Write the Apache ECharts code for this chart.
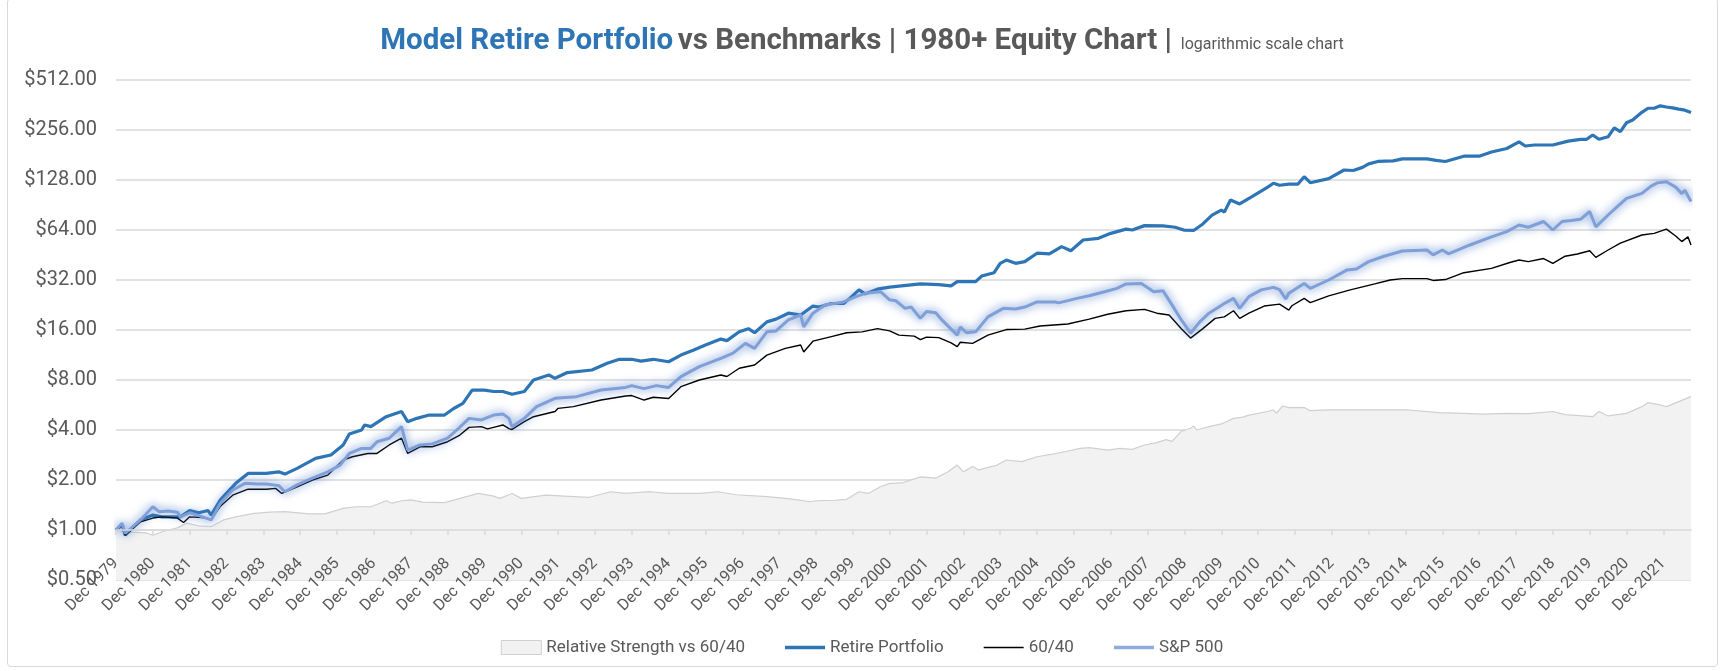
<!DOCTYPE html>
<html>
<head>
<meta charset="utf-8">
<script src="https://cdn.jsdelivr.net/npm/echarts@6/dist/echarts.min.js"></script>
<style>
html, body { margin: 0; padding: 0; background: #fff; }
#chart { width: 1724px; height: 671px; }
#frame { position: absolute; left: 7px; top: -2px; width: 1709px; height: 667px; border: 1px solid #d9d9d9; border-radius: 4px; pointer-events: none; }
</style>
</head>
<body>
<div id="chart"></div>
<div id="frame"></div>
<script>
// months counted from Dec 1979 (0) to Sep 2022 (513)
const tickLabels = ['Dec 1979', 'Dec 1980', 'Dec 1981', 'Dec 1982', 'Dec 1983', 'Dec 1984', 'Dec 1985', 'Dec 1986',
    'Dec 1987', 'Dec 1988', 'Dec 1989', 'Dec 1990', 'Dec 1991', 'Dec 1992', 'Dec 1993', 'Dec 1994', 'Dec 1995',
    'Dec 1996', 'Dec 1997', 'Dec 1998', 'Dec 1999', 'Dec 2000', 'Dec 2001', 'Dec 2002', 'Dec 2003', 'Dec 2004',
    'Dec 2005', 'Dec 2006', 'Dec 2007', 'Dec 2008', 'Dec 2009', 'Dec 2010', 'Dec 2011', 'Dec 2012', 'Dec 2013',
    'Dec 2014', 'Dec 2015', 'Dec 2016', 'Dec 2017', 'Dec 2018', 'Dec 2019', 'Dec 2020', 'Dec 2021'];
const tickMonths = tickLabels.map((t, i) => i * 12);

const retireMonths = [0, 2, 3, 8, 12, 15, 21, 24, 27, 30, 31, 34, 39, 43, 49, 53, 55, 59, 65, 70, 74, 76, 80, 81, 83, 88,
    93, 95, 98, 102, 107, 110, 113, 116, 120, 123, 126, 129, 133, 136, 141, 143, 147, 155, 160, 164, 168, 171, 175, 180,
    184, 188, 192, 197, 199, 203, 206, 208, 212, 215, 219, 223, 227, 229, 233, 237, 239, 242, 244, 248, 252, 262, 268,
    272, 274, 280, 282, 286, 288, 290, 293, 296, 300, 304, 308, 311, 315, 320, 324, 329, 331, 335, 341, 345, 348, 351,
    354, 357, 360, 361, 363, 366, 370, 375, 377, 379, 382, 385, 387, 389, 395, 400, 403, 406, 408, 411, 416, 419, 427,
    430, 433, 439, 444, 448, 453, 457, 459, 462, 465, 468, 473, 477, 479, 481, 483, 486, 488, 490, 492, 494, 497, 499,
    501, 503, 505, 507, 509, 511, 513];
const retireValues = [1.0, 1.07, 0.93, 1.15, 1.23, 1.20, 1.20, 1.31, 1.27, 1.31, 1.23, 1.52, 1.91, 2.19, 2.19, 2.24, 2.17,
    2.35, 2.70, 2.83, 3.25, 3.78, 4.0, 4.29, 4.19, 4.81, 5.17, 4.49, 4.70, 4.92, 4.92, 5.39, 5.78, 6.96, 6.96, 6.82, 6.82,
    6.57, 6.82, 8.0, 8.57, 8.19, 8.87, 9.19, 10.09, 10.66, 10.66, 10.4, 10.66, 10.3, 11.3, 12.1, 13.0, 14.1, 13.8, 15.6,
    16.3, 15.4, 17.9, 18.6, 20.2, 19.7, 22.3, 22.0, 23.1, 23.1, 24.8, 27.9, 26.4, 28.2, 29.0, 30.3, 30.0, 29.5, 31.3, 31.3,
    33.8, 35.4, 40.3, 42.2, 40.3, 41.3, 46.4, 46.0, 50.8, 48.0, 55.7, 57.0, 61.1, 64.8, 64.0, 68.0, 67.8, 66.5, 63.8, 63.6,
    69.6, 78.6, 84.4, 82, 97.0, 91.8, 101.6, 115.5, 122.3, 119, 121, 121, 134, 123.3, 130.5, 147, 146, 152.5, 160, 165.5,
    167, 171.4, 171.4, 168, 165.5, 178, 178, 188.6, 198, 217, 205, 208, 208, 208, 219.5, 225, 225, 239, 225, 233, 264, 250,
    283, 294, 327, 346, 346, 358, 352, 348, 342, 337, 326];

const mixMonths = [0, 2, 3, 8, 12, 15, 20, 22, 24, 28, 31, 34, 38, 43, 49, 52, 54, 59, 64, 69, 74, 77, 82, 85, 89, 93, 95,
    99, 103, 108, 112, 115, 119, 121, 123, 126, 128, 129, 133, 136, 143, 144, 149, 158, 166, 168, 172, 175, 180, 184, 190,
    197, 199, 203, 208, 212, 218, 223, 224, 227, 233, 238, 243, 248, 252, 255, 260, 262, 264, 268, 272, 274, 275, 279, 284,
    290, 296, 301, 310, 317, 323, 329, 335, 339, 343, 347, 350, 354, 358, 361, 364, 366, 369, 374, 379, 382, 383, 387, 389,
    395, 402, 410, 415, 419, 427, 429, 433, 439, 448, 454, 457, 460, 465, 468, 472, 476, 480, 482, 486, 490, 497, 501, 505,
    508, 510, 512, 513];
const mixValues = [1.0, 1.07, 0.93, 1.12, 1.18, 1.20, 1.18, 1.11, 1.20, 1.19, 1.16, 1.39, 1.62, 1.76, 1.76, 1.78, 1.66,
    1.82, 2.0, 2.14, 2.64, 2.76, 2.89, 2.89, 3.25, 3.57, 2.89, 3.17, 3.17, 3.40, 3.73, 4.15, 4.19, 4.06, 4.15, 4.29, 4.08,
    4.03, 4.49, 4.81, 5.17, 5.4, 5.53, 6.06, 6.41, 6.45, 6.06, 6.3, 6.19, 7.29, 8.0, 8.57, 8.4, 9.41, 9.85, 11.3, 12.4, 13.0,
    11.8, 13.7, 14.6, 15.4, 15.6, 16.3, 15.8, 14.9, 14.7, 14.0, 14.5, 14.4, 13.4, 12.7, 13.5, 13.3, 14.9, 16.1, 16.2, 16.9,
    17.4, 18.6, 19.9, 20.9, 21.3, 20.2, 19.7, 16.3, 14.3, 16.3, 18.8, 19.2, 20.9, 18.8, 20.2, 22.3, 22.9, 21.1, 22.4, 24.8,
    23.4, 25.7, 27.9, 30.3, 32, 32.6, 32.6, 31.8, 32.2, 35.4, 37.6, 40.8, 42.2, 41.3, 43.1, 40.3, 44.5, 45.9, 48, 43.8, 48.5,
    53.3, 59.7, 61.1, 64.8, 58.9, 54.5, 58.2, 52];

const spxMonths = [0, 2, 3, 8, 12, 14, 17, 20, 21, 24, 27, 31, 34, 38, 42, 46, 49, 53, 55, 59, 64, 69, 73, 76, 80, 83, 85,
    89, 93, 95, 99, 103, 108, 111, 115, 119, 123, 126, 128, 129, 133, 137, 143, 150, 158, 166, 168, 172, 176, 180, 184, 190,
    197, 201, 205, 208, 212, 215, 219, 223, 224, 227, 231, 237, 241, 244, 249, 252, 254, 257, 259, 262, 264, 267, 269, 274,
    275, 277, 280, 284, 289, 293, 296, 300, 306, 307, 313, 317, 322, 326, 329, 334, 338, 341, 344, 347, 350, 353, 356, 361,
    364, 366, 369, 373, 377, 379, 381, 382, 387, 389, 395, 401, 404, 408, 413, 419, 427, 429, 432, 434, 441, 448, 453, 457,
    460, 465, 468, 471, 474, 477, 480, 482, 486, 489, 492, 497, 500, 502, 505, 508, 510, 511, 513];
const spxValues = [1.0, 1.10, 0.955, 1.15, 1.38, 1.29, 1.30, 1.28, 1.20, 1.27, 1.22, 1.15, 1.45, 1.74, 1.91, 1.89, 1.89,
    1.85, 1.70, 1.87, 2.05, 2.24, 2.46, 2.89, 3.10, 3.10, 3.40, 3.57, 4.19, 3.03, 3.25, 3.30, 3.57, 4.0, 4.7, 4.6, 4.92, 5.0,
    4.7, 4.19, 4.70, 5.53, 6.21, 6.35, 6.96, 7.22, 7.4, 7.1, 7.4, 7.22, 8.38, 9.63, 10.8, 11.6, 13.3, 12.4, 15.6, 15.8, 18.4,
    19.7, 16.7, 20.2, 22.6, 23.6, 25.4, 26.6, 27.2, 24.3, 24.0, 21.6, 22.0, 18.8, 20.7, 20.3, 18.4, 14.9, 16.7, 15.4, 15.6,
    19.2, 21.6, 21.4, 22.0, 23.6, 23.6, 23.3, 24.8, 25.7, 27.2, 28.5, 30.3, 30.5, 27.2, 27.6, 22.6, 18.4, 15.3, 17.9, 20.2,
    23.1, 24.8, 21.6, 25.4, 27.9, 28.9, 28.0, 24.6, 26.6, 30.5, 28.5, 32, 36.8, 37.3, 41.3, 44.5, 47.8, 48.5, 45.3, 48.5,
    46.0, 52, 58.2, 62.6, 68.6, 66.5, 72, 64, 72, 73, 74.2, 82.7, 66.9, 78.8, 88.4, 99.2, 106.3, 117.6, 123, 125, 116, 106,
    111, 95];

const rsMonths = [0, 5, 10, 12, 16, 20, 23, 27, 31, 35, 39, 45, 50, 55, 63, 68, 74, 78, 83, 88, 90, 93, 96, 100, 107, 112,
    118, 123, 125, 129, 132, 140, 146, 154, 161, 166, 174, 180, 190, 196, 202, 212, 218, 222, 226, 228, 234, 238, 242, 245,
    249, 252, 256, 262, 267, 271, 274, 276, 279, 281, 287, 290, 295, 300, 305, 309, 314, 317, 323, 327, 331, 335, 339, 342,
    344, 347, 350, 351, 352, 356, 360, 364, 367, 369, 375, 377, 378, 380, 382, 387, 389, 395, 414, 421, 431, 439, 445, 453,
    460, 468, 472, 481, 483, 486, 492, 497, 499, 503, 505, 509, 513];
const rsValues = [1.0, 0.97, 0.96, 0.93, 0.99, 1.03, 1.10, 1.06, 1.05, 1.15, 1.20, 1.26, 1.28, 1.29, 1.25, 1.25, 1.35, 1.38,
    1.38, 1.50, 1.45, 1.50, 1.52, 1.47, 1.46, 1.55, 1.66, 1.60, 1.55, 1.66, 1.55, 1.62, 1.60, 1.57, 1.70, 1.66, 1.70, 1.66,
    1.66, 1.70, 1.63, 1.59, 1.55, 1.52, 1.48, 1.50, 1.51, 1.53, 1.70, 1.66, 1.82, 1.91, 1.92, 2.09, 2.05, 2.24, 2.46, 2.24,
    2.41, 2.30, 2.46, 2.64, 2.58, 2.76, 2.86, 2.96, 3.10, 3.13, 3.03, 3.10, 3.06, 3.25, 3.36, 3.50, 3.42, 3.93, 4.1, 4.23,
    4.0, 4.19, 4.35, 4.70, 4.78, 4.92, 5.17, 5.28, 5.05, 5.58, 5.45, 5.47, 5.23, 5.28, 5.28, 5.28, 5.09, 5.04, 4.98, 5.04,
    5.02, 5.17, 4.95, 4.81, 5.17, 4.86, 5.04, 5.53, 5.84, 5.66, 5.53, 5.93, 6.35];

function pairs(months, values) {
    return months.map((m, i) => [m, values[i]]);
}

// legend bars: invisible hairline keeps the box 40x14, the bar sits in the middle
const thickBar = 'path://M0,5.2 H40 V8.8 H0 Z M0,0 H0.01 V14 H0 Z';
const thinBar = 'path://M0,6.3 H40 V7.7 H0 Z M0,0 H0.01 V14 H0 Z';

const font = 'Roboto';
const myChart = echarts.init(document.getElementById('chart'));
myChart.setOption({
    animation: false,
    textStyle: { fontFamily: font },
    title: {
        text: '{a|Model Retire Portfolio} {b|vs Benchmarks | 1980+ Equity Chart |}  {c|logarithmic scale chart}',
        left: 'center',
        top: 22,
        textStyle: {
            rich: {
                a: { fontFamily: font, fontWeight: 'bold', fontSize: 29.5, color: '#2e75b6' },
                b: { fontFamily: font, fontWeight: 'bold', fontSize: 29.5, color: '#595959' },
                c: { fontFamily: font, fontWeight: 'normal', fontSize: 16, color: '#595959', padding: [6, 0, 0, 0] }
            }
        }
    },
    grid: { left: 116, right: 33, top: 80, bottom: 91, containLabel: false },
    legend: {
        bottom: 10,
        left: 'center',
        itemWidth: 40,
        itemHeight: 14,
        itemGap: 40,
        textStyle: { fontFamily: font, fontSize: 17, color: '#595959' },
        data: [
            { name: 'Relative Strength vs 60/40', icon: 'rect', itemStyle: { color: '#f2f2f2', borderColor: '#d0d0d0', borderWidth: 1 } },
            { name: 'Retire Portfolio', icon: thickBar },
            { name: '60/40', icon: thinBar },
            { name: 'S&P 500', icon: thickBar }
        ]
    },
    xAxis: {
        type: 'value',
        min: 0,
        max: 513,
        offset: -50,
        z: 10,
        splitLine: { show: false },
        axisLine: { onZero: false, lineStyle: { color: '#d9d9d9', width: 1.5 } },
        axisTick: { customValues: tickMonths, length: 5, lineStyle: { color: '#d9d9d9', width: 1.5 } },
        axisLabel: {
            customValues: tickMonths,
            rotate: 45,
            margin: 31,
            fontSize: 16,
            color: '#595959',
            width: 300,
            overflow: 'none',
            hideOverlap: false,
            formatter: v => tickLabels[Math.round(v / 12)]
        }
    },
    yAxis: {
        type: 'log',
        logBase: 2,
        min: 0.5,
        max: 512,
        interval: 1,
        axisLine: { show: false },
        axisTick: { show: false },
        splitLine: { lineStyle: { color: '#d9d9d9', width: 1.5 } },
        axisLabel: {
            margin: 19,
            fontSize: 20,
            color: '#595959',
            formatter: v => '$' + v.toFixed(2)
        }
    },
    series: [
        {
            name: 'Relative Strength vs 60/40',
            type: 'line',
            data: pairs(rsMonths, rsValues),
            symbol: 'none',
            lineStyle: { color: '#d0d0d0', width: 1.2 },
            itemStyle: { color: '#f2f2f2' },
            areaStyle: { color: '#f2f2f2', opacity: 1, origin: 'start' },
            z: 1
        },
        {
            name: 'Retire Portfolio',
            type: 'line',
            data: pairs(retireMonths, retireValues),
            symbol: 'none',
            itemStyle: { color: '#2e75b6' },
            lineStyle: { color: '#2e75b6', width: 3.2 },
            z: 3
        },
        {
            name: '60/40',
            type: 'line',
            data: pairs(mixMonths, mixValues),
            symbol: 'none',
            itemStyle: { color: '#000000' },
            lineStyle: { color: '#000000', width: 1.4 },
            z: 4
        },
        {
            name: 'S&P 500',
            type: 'line',
            data: pairs(spxMonths, spxValues),
            symbol: 'none',
            itemStyle: { color: '#8faadc' },
            lineStyle: { color: '#7f9fd8', width: 3, shadowBlur: 10, shadowColor: 'rgba(68, 114, 196, 1)' },
            z: 5
        }
    ]
});
</script>
</body>
</html>
